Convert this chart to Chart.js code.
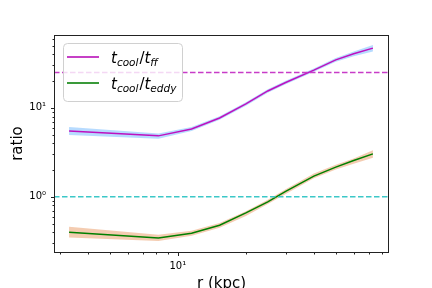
<!DOCTYPE html>
<html>
<head>
<meta charset="utf-8">
<script src="https://cdn.jsdelivr.net/npm/chart.js@4/dist/chart.umd.min.js"></script>
<style>
  html, body { margin: 0; padding: 0; background: #fff; }
  #wrap { width: 432px; height: 288px; }
</style>
</head>
<body>
<div id="wrap"><canvas id="ratioChart" width="432" height="288"></canvas></div>
<script>
// radius (kpc) of the sampled points
const radius = [3.3, 8.2, 11.5, 15.3, 20, 25, 30, 40, 50, 60, 73];

// t_cool / t_ff with its spread
const tffRatio = [5.5, 4.85, 5.8, 7.7, 11.1, 15.5, 19.3, 26.6, 34.7, 40.6, 47];
const tffLow   = [4.95, 4.5, 5.5, 7.35, 10.6, 14.8, 18.5, 25.5, 33, 38, 43];
const tffHigh  = [6.1, 5.15, 6.1, 8.05, 11.6, 16.2, 20.2, 27.8, 36.5, 43, 51];

// t_cool / t_eddy with its spread
const eddyRatio = [0.40, 0.345, 0.39, 0.48, 0.66, 0.88, 1.15, 1.71, 2.16, 2.56, 3.04];
const eddyLow   = [0.35, 0.32, 0.365, 0.45, 0.61, 0.83, 1.08, 1.62, 2.03, 2.35, 2.75];
const eddyHigh  = [0.46, 0.375, 0.415, 0.51, 0.69, 0.93, 1.22, 1.83, 2.3, 2.7, 3.35];

// reference levels
const tffThreshold = 25;
const eddyThreshold = 1;

// axes
const rRange = [2.83, 86];
const ratioRange = [0.24, 66];
const xMajor = [10];
const xMajorLabels = ['10\u00b9'];
const xMinor = [3, 4, 5, 6, 7, 8, 9, 20, 30, 40, 50, 60, 70, 80];
const yMajor = [1, 10];
const yMajorLabels = ['10\u2070', '10\u00b9'];
const yMinor = [0.3, 0.4, 0.5, 0.6, 0.7, 0.8, 0.9, 2, 3, 4, 5, 6, 7, 8, 9, 20, 30, 40, 50, 60];

const MAGENTA = '#bf10bf';
const GREEN = '#008000';

function pts(xs, ys) {
    return xs.map((x, i) => ({ x: x, y: ys[i] }));
}

// legend entries: pieces of the math label, sub = subscript
const legendItems = [
    { color: '#c640c6', parts: [{ t: 't' }, { t: 'cool', sub: true }, { t: '/', up: true }, { t: 't' }, { t: 'ff', sub: true }] },
    { color: '#3a9a3a', parts: [{ t: 't' }, { t: 'cool', sub: true }, { t: '/', up: true }, { t: 't' }, { t: 'eddy', sub: true }] }
];

const framePlugin = {
    id: 'frame',
    afterDraw(chart) {
        const ctx = chart.ctx;
        const a = chart.chartArea;
        const xs = chart.scales.x, ys = chart.scales.y;
        ctx.save();
        ctx.strokeStyle = '#222';
        ctx.lineWidth = 1;
        ctx.strokeRect(Math.round(a.left) + 0.5, Math.round(a.top) + 0.5,
            Math.round(a.right - a.left) - 1, Math.round(a.bottom - a.top));

        // tick marks, outward
        ctx.beginPath();
        const bottom = Math.round(a.bottom) + 0.5;
        const left = Math.round(a.left) + 0.5;
        xMajor.forEach(v => { const p = Math.round(xs.getPixelForValue(v)) + 0.5; ctx.moveTo(p, bottom); ctx.lineTo(p, bottom + 3.5); });
        xMinor.forEach(v => { const p = Math.round(xs.getPixelForValue(v)) + 0.5; ctx.moveTo(p, bottom); ctx.lineTo(p, bottom + 2); });
        yMajor.forEach(v => { const p = Math.round(ys.getPixelForValue(v)) + 0.5; ctx.moveTo(left, p); ctx.lineTo(left - 3.5, p); });
        yMinor.forEach(v => { const p = Math.round(ys.getPixelForValue(v)) + 0.5; ctx.moveTo(left, p); ctx.lineTo(left - 2, p); });
        ctx.stroke();

        // legend
        const bx = a.left + 9, by = a.top + 8, bw = 119, bh = 58;
        ctx.beginPath();
        ctx.roundRect(bx + 0.5, by + 0.5, bw, bh, 4);
        ctx.fillStyle = 'rgba(255,255,255,0.8)';
        ctx.fill();
        ctx.strokeStyle = '#d0d0d0';
        ctx.stroke();

        legendItems.forEach((item, i) => {
            const ly = by + 14 + i * 26;
            ctx.beginPath();
            ctx.strokeStyle = item.color;
            ctx.lineWidth = 2;
            ctx.moveTo(bx + 4, ly);
            ctx.lineTo(bx + 36, ly);
            ctx.stroke();

            let tx = bx + 48;
            const base = ly + 6;
            ctx.fillStyle = '#000';
            ctx.textBaseline = 'alphabetic';
            item.parts.forEach(p => {
                const size = p.sub ? 10.5 : 15;
                ctx.font = (p.up ? '' : 'italic ') + size + 'px "DejaVu Sans"';
                ctx.fillText(p.t, tx, p.sub ? base + 3 : base);
                tx += ctx.measureText(p.t).width + (p.sub ? 1 : 0);
            });
        });
        ctx.restore();
    }
};

const ctx = document.getElementById('ratioChart').getContext('2d');
new Chart(ctx, {
    type: 'line',
    data: {
        datasets: [
            { data: pts(radius, tffHigh), order: 3, borderWidth: 0, pointRadius: 0, fill: '+1', backgroundColor: 'rgba(30,144,255,0.32)' },
            { data: pts(radius, tffLow), order: 3, borderWidth: 0, pointRadius: 0, fill: false },
            { data: pts(radius, eddyHigh), order: 3, borderWidth: 0, pointRadius: 0, fill: '+1', backgroundColor: 'rgba(225,120,50,0.38)' },
            { data: pts(radius, eddyLow), order: 3, borderWidth: 0, pointRadius: 0, fill: false },
            { data: pts(radius, tffRatio), order: 1, borderColor: MAGENTA, borderWidth: 1.5, pointRadius: 0, fill: false },
            { data: pts(radius, eddyRatio), order: 1, borderColor: GREEN, borderWidth: 1.5, pointRadius: 0, fill: false },
            { data: pts(rRange, [tffThreshold, tffThreshold]), order: 0, borderColor: '#c83cc8', borderWidth: 1.5, borderDash: [5.5, 2.5], pointRadius: 0, fill: false },
            { data: pts(rRange, [eddyThreshold, eddyThreshold]), order: 0, borderColor: '#3cc8c8', borderWidth: 1.5, borderDash: [5.5, 2.5], pointRadius: 0, fill: false }
        ]
    },
    options: {
        responsive: false,
        animation: false,
        devicePixelRatio: 1,
        layout: { padding: { top: 35, right: 43, left: 0, bottom: 0 } },
        plugins: { legend: { display: false }, tooltip: { enabled: false } },
        elements: { line: { tension: 0 } },
        scales: {
            x: {
                type: 'logarithmic',
                min: rRange[0],
                max: rRange[1],
                afterBuildTicks: s => { s.ticks = xMajor.map(v => ({ value: v })); },
                afterFit: s => { s.height = 36; },
                grid: { display: false, drawTicks: false },
                border: { display: false },
                ticks: {
                    autoSkip: false, maxRotation: 0, padding: 8,
                    color: '#000', font: { family: 'DejaVu Sans', size: 10 },
                    callback: (v) => xMajorLabels[xMajor.indexOf(v)] || ''
                },
                title: { display: true, text: 'r (kpc)', color: '#000', font: { family: 'DejaVu Sans', size: 15 }, padding: { top: 0, bottom: -5 } }
            },
            y: {
                type: 'logarithmic',
                min: ratioRange[0],
                max: ratioRange[1],
                afterBuildTicks: s => { s.ticks = yMajor.map(v => ({ value: v })); },
                afterFit: s => { s.width = 54; },
                grid: { display: false, drawTicks: false },
                border: { display: false },
                ticks: {
                    autoSkip: false, padding: 8,
                    color: '#000', font: { family: 'DejaVu Sans', size: 10 },
                    callback: (v) => yMajorLabels[yMajor.indexOf(v)] || ''
                },
                title: { display: true, text: 'ratio', color: '#000', font: { family: 'DejaVu Sans', size: 15 }, padding: { top: 9, bottom: 0 } }
            }
        }
    },
    plugins: [framePlugin]
});
</script>
</body>
</html>
